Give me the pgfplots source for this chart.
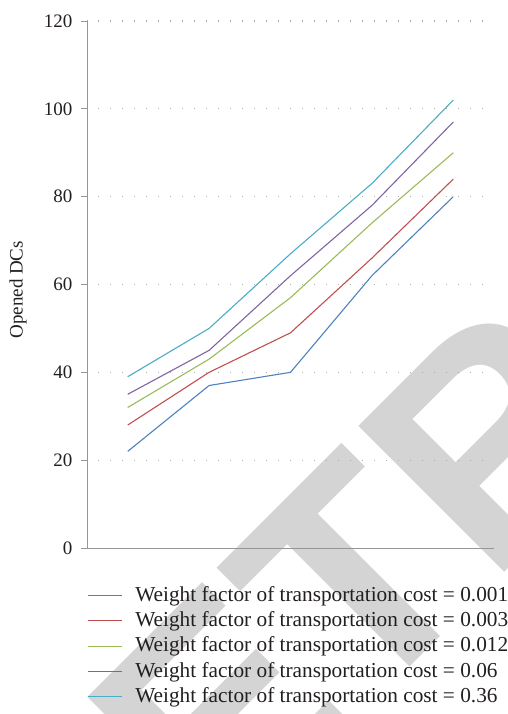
\documentclass[border=0pt]{standalone}
\usepackage{fontspec}
\setmainfont{Liberation Serif}
\newfontfamily\wmfont{Liberation Sans}
\usepackage{pgfplots}
\pgfplotsset{compat=1.18}
\definecolor{c1}{HTML}{4F81BD}
\definecolor{c2}{HTML}{C0504D}
\definecolor{c3}{HTML}{9BBB59}
\definecolor{c4}{HTML}{8064A2}
\definecolor{c5}{HTML}{4BACC6}
\definecolor{axgray}{RGB}{150,150,150}
\definecolor{wmgray}{RGB}{212,212,212}
\definecolor{txt}{RGB}{35,31,32}
\begin{document}
\begin{tikzpicture}
\useasboundingbox (0,0) rectangle (508pt,714pt);
\begin{scope}
\clip (0,0) rectangle (508pt,714pt);
\node[rotate=45, anchor=base west, inner sep=0pt, text=wmgray, font=\wmfont\fontsize{300pt}{300pt}\selectfont\bfseries] at (66pt,-297pt) {RETRACTED};
\end{scope}
\begin{axis}[
  at={(87pt,166pt)}, anchor=south west,
  scale only axis, width=407pt, height=527pt,
  xmin=0.5, xmax=5.5, ymin=0, ymax=120,
  ytick={20,40,...,120}, xtick=\empty,
  extra y ticks={0}, extra y tick style={grid=none},
  axis lines*=left,
  axis line style={axgray, line width=0.9pt},
  tick align=outside, major tick length=6pt,
  tick style={axgray, line width=0.9pt},
  ymajorgrids,
  major grid style={axgray!80, line width=1.3pt, dash pattern=on 1.3pt off 10.7pt, dash phase=-11pt},
  /pgf/number format/assume math mode=true,
  tick label style={font=\fontsize{19pt}{22pt}\selectfont, text=txt},
  yticklabel style={xshift=-5pt},
  ylabel={Opened DCs},
  ylabel style={font=\fontsize{19pt}{22pt}\selectfont, text=txt, at={(axis description cs:-0.1695,0.49)}, anchor=center},
  legend style={at={(axis description cs:0,-0.066)}, anchor=north west, draw=none, fill=none,
    inner sep=0pt, column sep=13pt, row sep=0pt,
    nodes={inner xsep=0pt, inner ysep=0pt, text height=18.3pt, text depth=7pt, text=txt},
    font=\fontsize{21.3pt}{24pt}\selectfont},
  legend cell align=left,
  legend image code/.code={\draw[#1] (0pt,0pt) -- (34pt,0pt);},
  every axis plot/.append style={line width=1.1pt},
]
\addplot[c1] coordinates {(1,22) (2,37) (3,40) (4,62) (5,80)};
\addplot[c2] coordinates {(1,28) (2,40) (3,49) (4,66) (5,84)};
\addplot[c3] coordinates {(1,32) (2,43) (3,57) (4,74) (5,90)};
\addplot[c4] coordinates {(1,35) (2,45) (3,62) (4,78) (5,97)};
\addplot[c5] coordinates {(1,39) (2,50) (3,67) (4,83) (5,102)};
\legend{Weight factor of transportation cost = 0.001,
        Weight factor of transportation cost = 0.003,
        Weight factor of transportation cost = 0.012,
        Weight factor of transportation cost = 0.06,
        Weight factor of transportation cost = 0.36}
\end{axis}
\end{tikzpicture}
\end{document}
